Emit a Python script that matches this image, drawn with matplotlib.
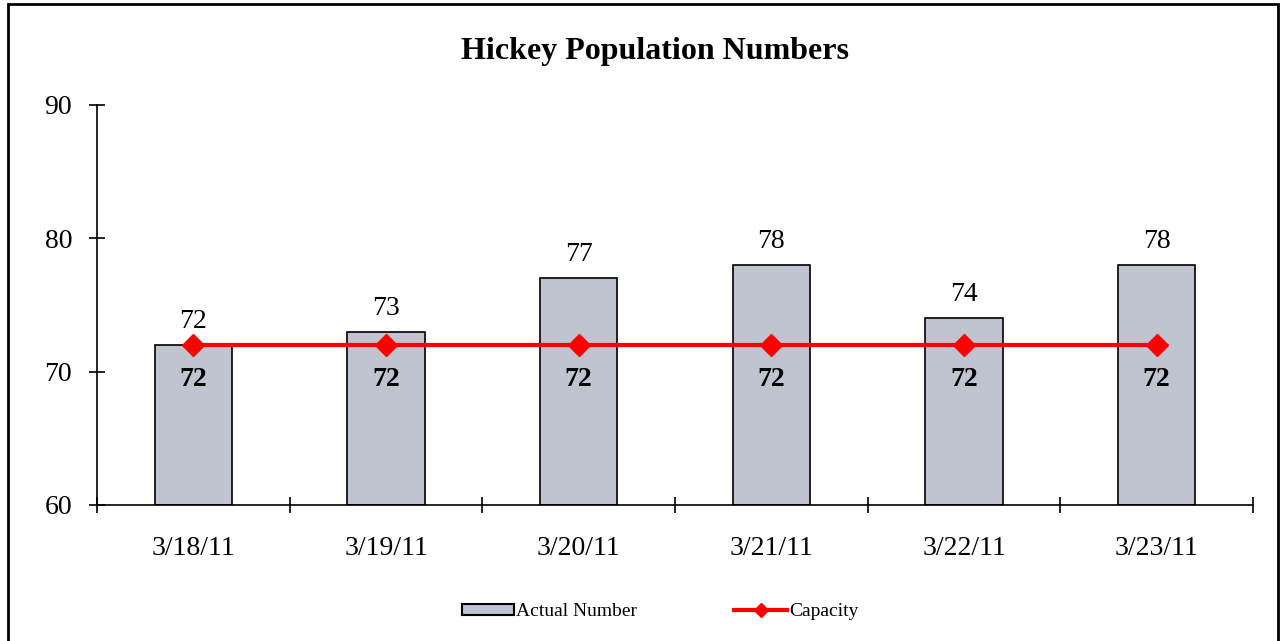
import numpy as np
import matplotlib.pyplot as plt
import matplotlib.patches as patches
from matplotlib.lines import Line2D

# data
dates = ['3/18/11', '3/19/11', '3/20/11', '3/21/11', '3/22/11', '3/23/11']
actual = [72, 73, 77, 78, 74, 78]
capacity = [72, 72, 72, 72, 72, 72]

plt.rcParams['font.family'] = ['Liberation Serif', 'DejaVu Serif']

fig = plt.figure(figsize=(12.8, 6.41), dpi=100)
ax = fig.add_axes([97/1280, 136/641, (1253-97)/1280, 400/641])

x = np.arange(len(dates))
bar_col = '#C0C3D0'
ax.bar(x, [a - 60 for a in actual], bottom=60, width=0.4, color=bar_col,
       edgecolor='black', linewidth=1.2, zorder=2)
ax.plot(x, capacity, color='#FF0000', linewidth=3, marker='D', markersize=11,
        zorder=3)

for i in range(len(dates)):
    ax.annotate(str(actual[i]), (x[i], actual[i]), xytext=(0, 8),
                textcoords='offset points', ha='center', va='bottom', fontsize=20)
    ax.annotate(str(capacity[i]), (x[i], capacity[i]), xytext=(0, -25),
                textcoords='offset points', ha='center', va='center',
                fontsize=20, fontweight='bold')

ax.set_xlim(-0.5, len(dates) - 0.5)
ax.set_ylim(60, 90)
ax.set_yticks([60, 70, 80, 90])
ax.set_xticks(x)
ax.set_xticklabels(dates)
ax.set_xticks(np.arange(-0.5, len(dates)), minor=True)
ax.tick_params(axis='x', which='major', length=0, pad=22, labelsize=20)
ax.tick_params(axis='x', which='minor', length=12, width=1.2, direction='inout')
ax.tick_params(axis='y', length=12, width=1.2, direction='inout', pad=12,
               labelsize=20)
for s in ['top', 'right']:
    ax.spines[s].set_visible(False)
for s in ['left', 'bottom']:
    ax.spines[s].set_linewidth(1.2)

fig.text(655/1280, 1 - 52/641, 'Hickey Population Numbers', ha='center',
         va='center', fontsize=23, fontweight='bold')

handles = [patches.Patch(facecolor=bar_col, edgecolor='black', linewidth=1.5),
           Line2D([], [], color='#FF0000', linewidth=3, marker='D', markersize=7)]
fig.legend(handles, ['Actual Number', 'Capacity'], loc='center',
           bbox_to_anchor=(660/1280, 1 - 612/641), ncol=2, frameon=False,
           fontsize=14, columnspacing=5, handlelength=2.7, handletextpad=0.1,
           handleheight=0.5)

fig.add_artist(patches.Rectangle((8/1280, -0.05), 1270/1280, 1.05 - 4/641,
                                 transform=fig.transFigure, fill=False,
                                 edgecolor='black', linewidth=2))

fig.savefig('out.png', dpi=100)
